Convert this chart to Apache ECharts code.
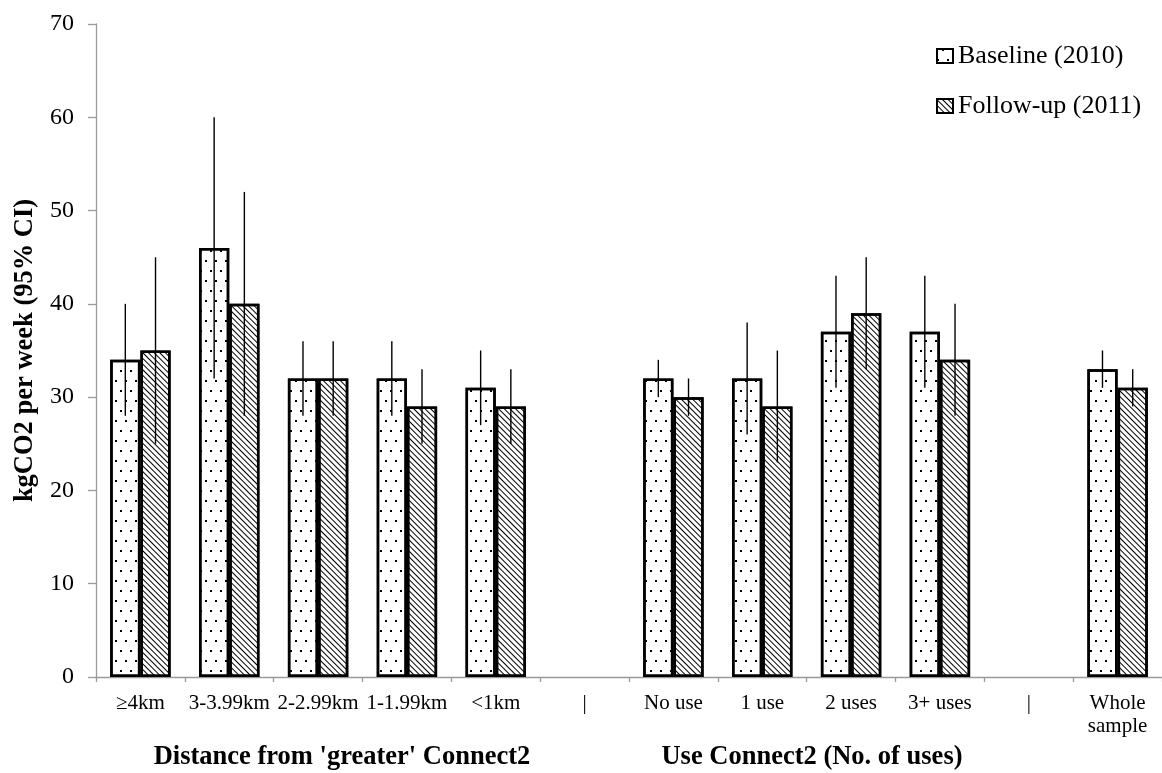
<!DOCTYPE html>
<html>
<head>
<meta charset="utf-8">
<script src="https://cdn.jsdelivr.net/npm/echarts@6/dist/echarts.min.js"></script>
<style>
html,body{margin:0;padding:0;background:#fff;}
#chart{width:1162px;height:773px;}
</style>
</head>
<body>
<div id="chart"></div>
<script>
// ---- data ----
var categories = ['≥4km', '3-3.99km', '2-2.99km', '1-1.99km', '<1km', '|', 'No use', '1 use', '2 uses', '3+ uses', '|', 'Whole\nsample'];
var seriesNames = ['Baseline (2010)', 'Follow-up (2011)'];
var baseline     = [34, 46, 32, 32, 31, null, 32, 32, 37, 37, null, 33];
var followup     = [35, 40, 32, 29, 29, null, 30, 29, 39, 34, null, 31];
var baselineLow  = [28, 32, 28, 28, 27, null, 30, 26, 31, 31, null, 31];
var baselineHigh = [40, 60, 36, 36, 35, null, 34, 38, 43, 43, null, 35];
var followLow    = [25, 28, 28, 25, 25, null, 28, 23, 33, 28, null, 29];
var followHigh   = [45, 52, 36, 33, 33, null, 32, 35, 45, 40, null, 33];
var yTicks = [0, 10, 20, 30, 40, 50, 60, 70];
var groupTitles = ["Distance from 'greater' Connect2", 'Use Connect2 (No. of uses)'];
var yTitle = 'kgCO2 per week (95% CI)';

var FONT = "'Liberation Serif', 'Times New Roman', serif";
var CAT_GAP = 0.32;

function errData(lo, hi) {
  var out = [];
  for (var i = 0; i < lo.length; i++) {
    if (lo[i] != null && hi[i] != null) out.push([i, lo[i], hi[i]]);
  }
  return out;
}
function errSeries(lo, hi, side) {
  return {
    type: 'custom',
    z: 10,
    silent: true,
    data: errData(lo, hi),
    encode: { x: 0, y: [1, 2] },
    renderItem: function (params, api) {
      var c = api.value(0);
      var p1 = api.coord([c, api.value(1)]);
      var p2 = api.coord([c, api.value(2)]);
      var catW = api.size([1, 0])[0];
      var barW = catW * (1 - CAT_GAP) / 2;
      var x = p1[0] + side * barW / 2;
      return {
        type: 'line',
        shape: { x1: x, y1: p1[1], x2: x, y2: p2[1] },
        style: { stroke: '#000', lineWidth: 1.4 }
      };
    }
  };
}

var dotDecal = {
  symbol: 'rect',
  symbolSize: 1,
  color: '#000',
  dashArrayX: [[1.5, 7.5], [0, 4.5, 1.5, 3]],
  dashArrayY: [1.5, 8],
  rotation: 0
};
var hatchDecal = {
  symbol: 'rect',
  symbolSize: 1,
  color: '#000',
  dashArrayX: [1, 0],
  dashArrayY: [1, 2.2],
  rotation: Math.PI / 4
};

var chart = echarts.init(document.getElementById('chart'), null, { renderer: 'canvas' });
chart.setOption({
  backgroundColor: '#fff',
  animation: false,
  textStyle: { fontFamily: FONT, color: '#000' },
  grid: { left: 96, top: 24, width: 1069, height: 653, containLabel: false },
  legend: {
    data: seriesNames,
    orient: 'vertical',
    left: 931,
    top: 38,
    itemWidth: 16,
    itemHeight: 14,
    itemGap: 24,
    icon: 'rect',
    itemStyle: { borderColor: '#000', borderWidth: 2 },
    textStyle: { fontFamily: FONT, fontSize: 26, color: '#000' }
  },
  xAxis: {
    type: 'category',
    data: categories,
    boundaryGap: true,
    axisLine: { lineStyle: { color: '#9a9a9a', width: 1.3 } },
    axisTick: { show: true, length: 5, lineStyle: { color: '#9a9a9a', width: 1.3 } },
    axisLabel: { interval: 0, fontFamily: FONT, fontSize: 21, color: '#000', margin: 15, lineHeight: 23 },
    splitLine: { show: false }
  },
  yAxis: {
    type: 'value',
    min: yTicks[0],
    max: yTicks[yTicks.length - 1],
    interval: 10,
    name: yTitle,
    nameLocation: 'middle',
    nameGap: 57,
    nameTextStyle: { fontFamily: FONT, fontSize: 26.5, fontWeight: 'bold', color: '#000' },
    axisLine: { show: true, lineStyle: { color: '#9a9a9a', width: 1.3 } },
    axisTick: { show: true, length: 8, lineStyle: { color: '#9a9a9a', width: 1.3 } },
    axisLabel: { fontFamily: FONT, fontSize: 24, color: '#000', margin: 22 },
    splitLine: { show: false }
  },
  series: [
    {
      name: seriesNames[0],
      type: 'bar',
      data: baseline,
      barGap: '0%',
      barCategoryGap: (CAT_GAP * 100) + '%',
      itemStyle: { color: '#fff', borderColor: '#000', borderWidth: 2.5, decal: dotDecal }
    },
    {
      name: seriesNames[1],
      type: 'bar',
      data: followup,
      barGap: '0%',
      barCategoryGap: (CAT_GAP * 100) + '%',
      itemStyle: { color: '#fff', borderColor: '#000', borderWidth: 2.5, decal: hatchDecal }
    },
    errSeries(baselineLow, baselineHigh, -1),
    errSeries(followLow, followHigh, 1)
  ],
  graphic: [
    { type: 'text', x: 342, y: 757, style: { text: groupTitles[0], font: 'bold 26.5px ' + FONT, fill: '#000', align: 'center', verticalAlign: 'middle' } },
    { type: 'text', x: 812, y: 757, style: { text: groupTitles[1], font: 'bold 26.5px ' + FONT, fill: '#000', align: 'center', verticalAlign: 'middle' } }
  ]
});
</script>
</body>
</html>
